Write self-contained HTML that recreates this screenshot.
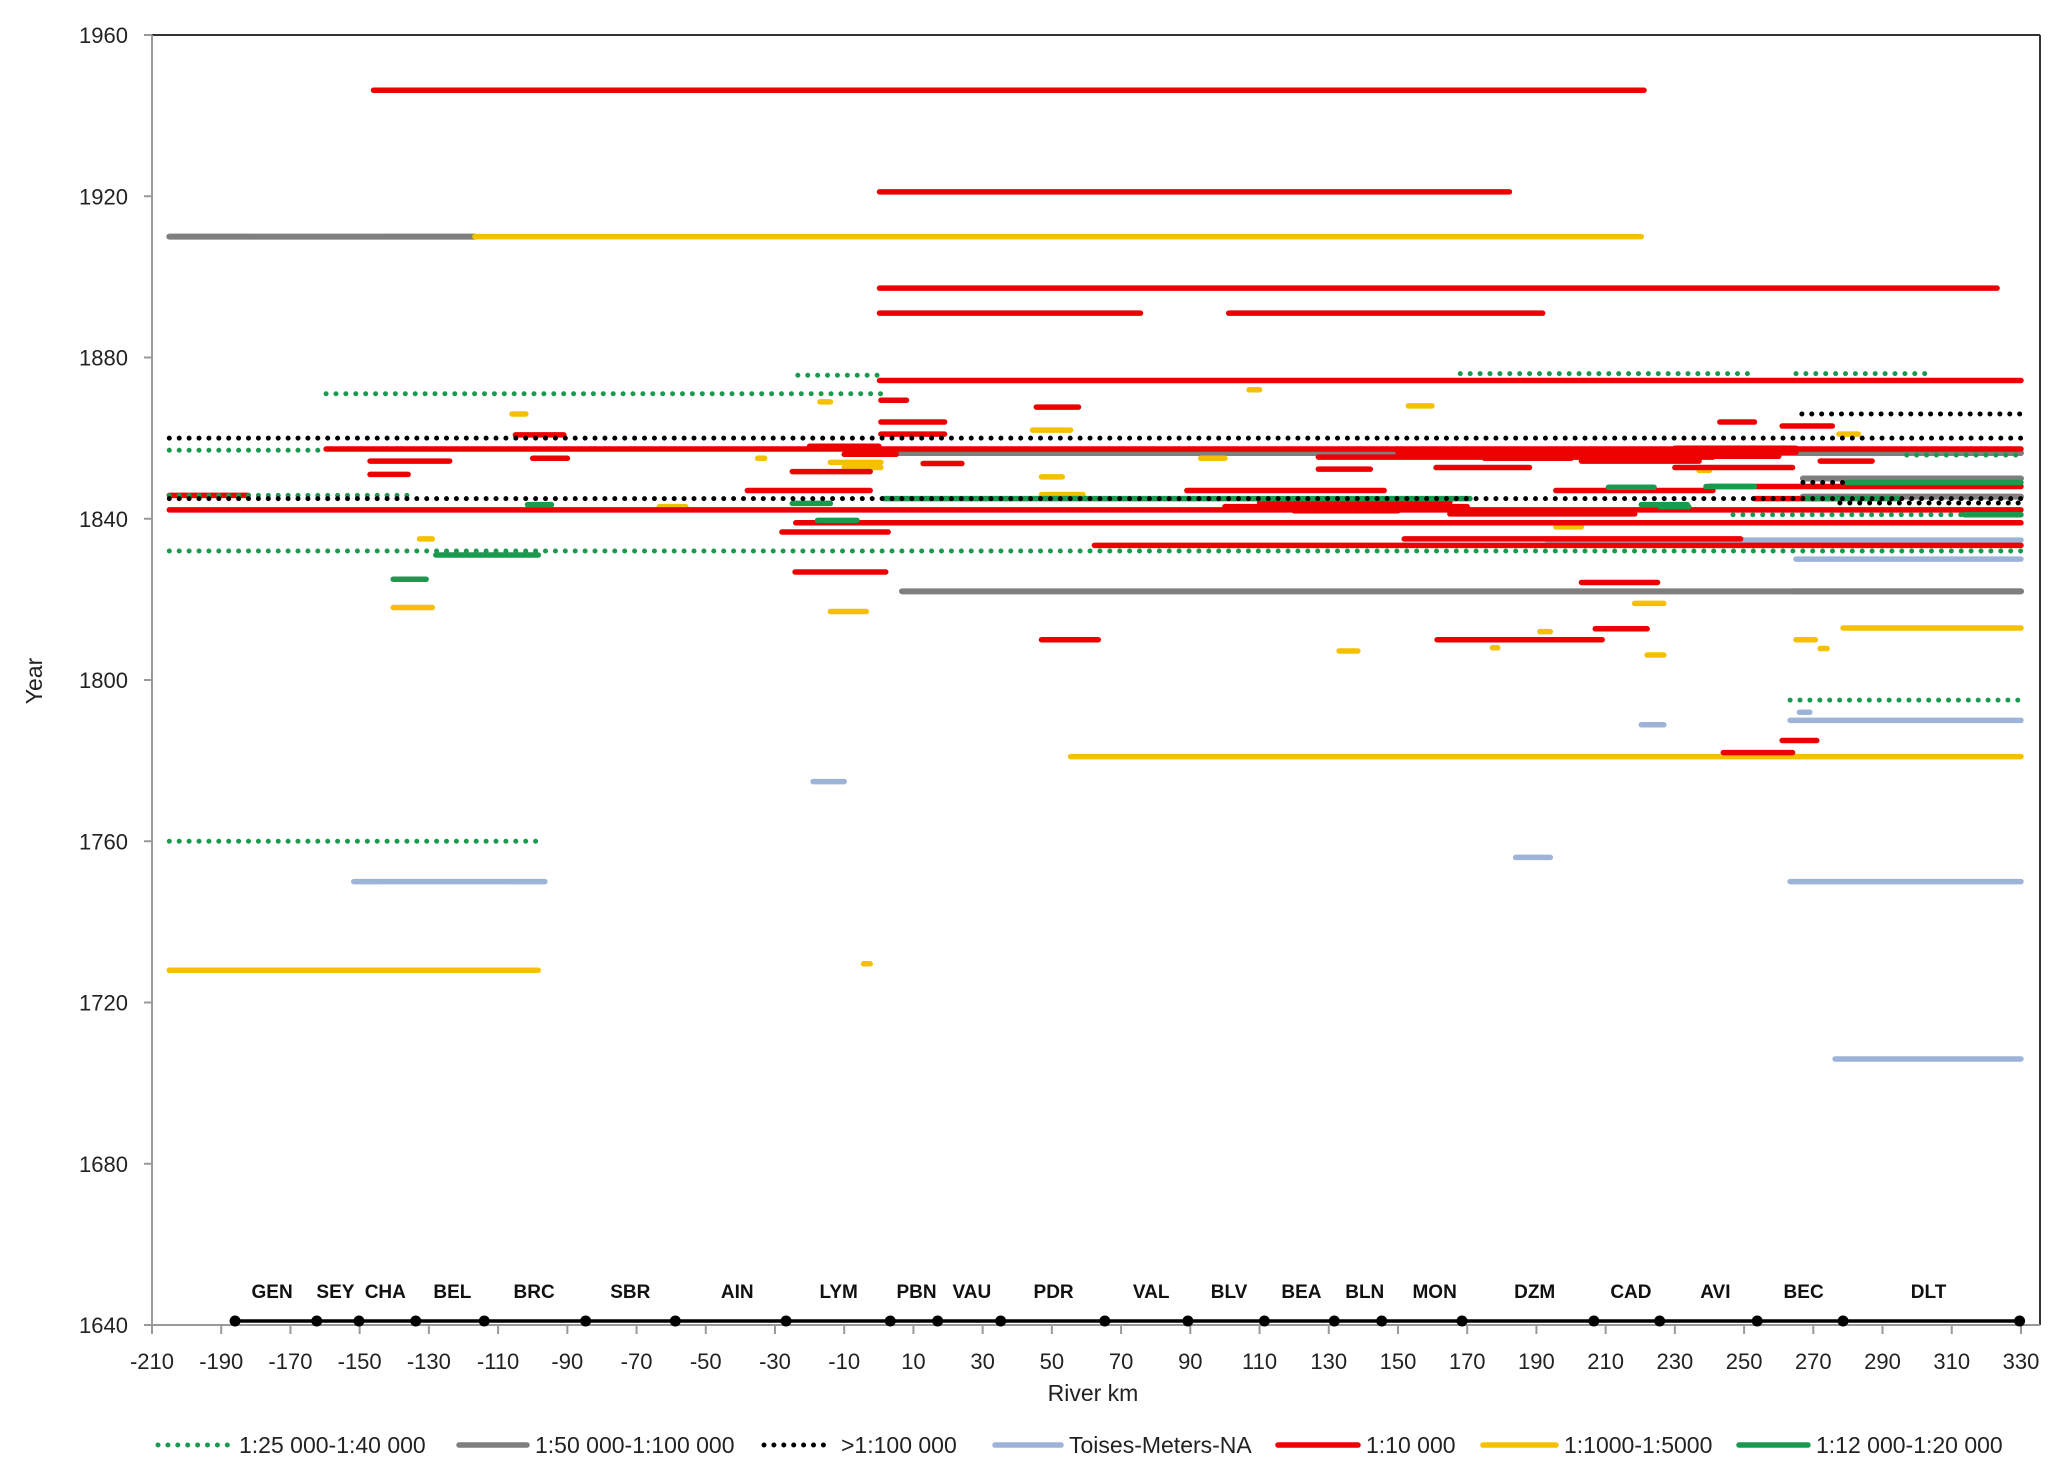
<!DOCTYPE html>
<html><head><meta charset="utf-8">
<style>
html,body{margin:0;padding:0;background:#fff;}
svg{display:block;font-family:"Liberation Sans",sans-serif;}
</style></head>
<body>
<svg id="chart" width="2067" height="1479" viewBox="0 0 2067 1479" xmlns="http://www.w3.org/2000/svg">
<rect x="0" y="0" width="2067" height="1479" fill="#fff"/>
<g id="marks"></g>
<g id="axes"></g>
<g id="legend"></g>
</svg>
<script>
// ---- data (river km start, river km end, year) ----
const xTicks = [-210,-190,-170,-150,-130,-110,-90,-70,-50,-30,-10,10,30,50,70,90,110,130,150,170,190,210,230,250,270,290,310,330];
const yTicks = [1640,1680,1720,1760,1800,1840,1880,1920,1960];

const stationKm = [-186,-162.4,-150.2,-133.8,-114,-84.7,-58.8,-26.8,3.3,17,35.2,65.3,89.3,111.4,131.6,145.3,168.5,206.6,225.6,253.8,278.6,329.6];
const reachNames = ["GEN","SEY","CHA","BEL","BRC","SBR","AIN","LYM","PBN","VAU","PDR","VAL","BLV","BEA","BLN","MON","DZM","CAD","AVI","BEC","DLT"];
const reachKm = [-175.3,-157,-142.6,-123.2,-99.6,-71.8,-40.9,-11.6,10.9,26.9,50.5,78.7,101.2,122.1,140.4,160.6,189.5,217.3,241.7,267.2,303.3];

// 1:25 000-1:40 000 (green dotted)
const s25Start = [-23.4,168,265,-159.7,-205,-205,-205,-205,263.3,246.8,297];
const s25End   = [1.4,251.5,303.3,1.4,-159.7,-133.5,330,-98.8,330,330,330];
const s25Year  = [1875.6,1876,1876,1871,1857,1845.8,1832,1760,1795,1841,1855.8];

// 1:50 000-1:100 000 (gray)
const s50Start = [-205,3.3,6.7,264,267,267];
const s50End   = [-116.7,330,330,330,330,330];
const s50Year  = [1910,1856.3,1822,1822,1850,1845.5];

// >1:100 000 (black dotted)
const s100Start = [-205,-205,266.7,267,277.7];
const s100End   = [330,330,330,280,330];
const s100Year  = [1860,1845,1866,1849,1843.9];

// Toises-Meters-NA (light blue)
const sToiStart = [-19,-151.7,184,220.3,263.3,276.3,263.3,193,265,266];
const sToiEnd   = [-10,-96.5,194,226.8,330,330,330,330,330,269];
const sToiYear  = [1774.8,1750,1756,1788.9,1790,1706,1750,1834.7,1830,1792];

// 1:10 000 (red)
const s10Start = [-146,0.2,0.2,0.2,101.1,0.2,-159.7,-205,-205,-24,-28,62.3,151.8,-24.2,47,161.3,207,203,244,261,-147,-147,-105,-100,0.6,0.6,0.6,45.5,-38,243,261,127,161,203,89,112,195.6,165,230,253,272,12.8,-25,127,150,175,215,230,100,120,240,110,-20,-10];
const s10End   = [221.1,182.2,323.1,75.6,191.8,330,330,-182.2,330,330,2.7,330,249,2,63.4,209,222,225,264,271,-124,-136,-91,-90,8,19,19,57.7,-2.5,253,275.5,241,188,237,146,165,241,218.4,264,279,287,24,-2.5,142,265,200,260,265,170,150,330,145,0,5];
const s10Year  = [1946.3,1921.1,1897.2,1891,1891,1874.3,1857.3,1845.8,1842.2,1839,1836.7,1833.4,1835,1826.8,1810,1810,1812.7,1824.2,1782,1785,1854.3,1851,1860.8,1855,1869.4,1864,1861,1867.7,1847,1864,1863,1855.3,1852.7,1854.3,1847,1844.2,1847,1841.2,1852.7,1845,1854.3,1853.7,1851.7,1852.3,1856.5,1855,1855.5,1857.5,1843,1842,1848,1844,1858,1856];

// 1:1000-1:5000 (yellow)
const s1000Start = [-116.7,-205,55.4,278.6,-140.3,-14,-132.7,-4.4,133,177.3,218.4,222,265,-106,-17,107,153,44.4,47,47,191,-63.4,-14,-10,93,277.4,272,-35,195.6,237];
const s1000End   = [220.3,-98.4,330,330,-129,-3.6,-129,-2.5,138.4,178.8,226.8,226.8,270.6,-102,-14,110,159.8,55.4,53,59,194,-55.8,0.6,0.6,100,283,274,-33,203,240];
const s1000Year  = [1910,1728,1781,1812.9,1818,1817,1835,1729.6,1807.2,1808,1819,1806.2,1810,1866,1869,1872,1868,1862,1850.4,1846,1812,1843,1854,1852.7,1855,1861,1807.8,1855,1838,1852];

// 1:12 000-1:20 000 (green)
const s12Start = [-140.3,-128,-101.5,1.4,-17.7,210.8,220.3,279.7,313.6,-25,239,225.7,268];
const s12End   = [-130.8,-98.4,-94.6,170.8,-6.3,224,233.6,330,330,-14,253,234,295];
const s12Year  = [1825,1831,1843.5,1845,1839.6,1847.8,1843.5,1849,1841,1843.8,1848,1843,1845];

// ---- scales ----
const X0=152, X1=2040, KM0=-210, KM1=335.5;
const Y0=1325, Y1=35, YR0=1640, YR1=1960;
function xs(km){return X0+(km-KM0)*(X1-X0)/(KM1-KM0);}
function ys(yr){return Y0-(yr-YR0)*(Y0-Y1)/(YR1-YR0);}

const NS="http://www.w3.org/2000/svg";
function mk(tag,parent){const e=document.createElementNS(NS,tag);parent.appendChild(e);return e;}
const marks=document.getElementById('marks');
const axes=document.getElementById('axes');
const legend=document.getElementById('legend');

function drawSolid(starts,ends,years,color,w,name){
  for(let i=0;i<starts.length;i++){
    const l=mk('line',marks);
    
    
    l.setAttribute('x1',xs(starts[i]));l.setAttribute('x2',xs(ends[i]));
    l.setAttribute('y1',ys(years[i]));l.setAttribute('y2',ys(years[i]));
    l.setAttribute('stroke',color);l.setAttribute('stroke-width',w);
    l.setAttribute('stroke-linecap','round');
  }
}
function drawDotted(starts,ends,years,color,name){
  for(let i=0;i<starts.length;i++){
    const l=mk('line',marks);
    
    
    l.setAttribute('x1',xs(starts[i]));l.setAttribute('x2',xs(ends[i]));
    l.setAttribute('y1',ys(years[i]));l.setAttribute('y2',ys(years[i]));
    l.setAttribute('stroke',color);l.setAttribute('stroke-width',5);
    l.setAttribute('stroke-linecap','round');
    l.setAttribute('stroke-dasharray','0 9.9');
  }
}
drawSolid(s50Start,s50End,s50Year,'#7f7f7f',6,'series-1-50000');
drawSolid(sToiStart,sToiEnd,sToiYear,'#9db4d8',5.5,'series-toises');
drawSolid(s1000Start,s1000End,s1000Year,'#f5c000',5.5,'series-1-1000');
drawSolid(s10Start,s10End,s10Year,'#ee0000',5.5,'series-1-10000');
drawSolid(s12Start,s12End,s12Year,'#1a9a4e',5.5,'series-1-12000');
drawDotted(s25Start,s25End,s25Year,'#1a9a4e','series-1-25000');
drawDotted(s100Start,s100End,s100Year,'#000','series-gt-100000');

// ---- axes ----
function line(p,x1,y1,x2,y2,c,w,name){const l=mk('line',p);
  
  
  l.setAttribute('x1',x1);l.setAttribute('y1',y1);l.setAttribute('x2',x2);l.setAttribute('y2',y2);
  l.setAttribute('stroke',c);l.setAttribute('stroke-width',w);return l;}
line(axes,X0,Y1,X1,Y1,'#333',2,'plot-border-top');
line(axes,X1,Y1,X1,Y0,'#333',2,'plot-border-right');
line(axes,X0,Y1,X0,Y0+2,'#999',2,'y-axis-line');
line(axes,X0-2,Y0,X1,Y0,'#999',2,'x-axis-line');

yTicks.forEach(v=>{
  line(axes,X0-8,ys(v),X0,ys(v),'#999',2,'y-tick');
  const t=mk('text',axes);
  
  
  t.setAttribute('x',X0-24);t.setAttribute('y',ys(v)+8);t.setAttribute('text-anchor','end');
  t.setAttribute('font-size','22');t.setAttribute('fill','#222');t.textContent=v;
});
xTicks.forEach(v=>{
  line(axes,xs(v),Y0,xs(v),Y0+9,'#999',2,'x-tick');
  const t=mk('text',axes);
  
  
  t.setAttribute('x',xs(v));t.setAttribute('y',Y0+44);t.setAttribute('text-anchor','middle');
  t.setAttribute('font-size','22');t.setAttribute('fill','#222');t.textContent=v;
});
line(axes,xs(stationKm[0]),Y0-4,xs(stationKm[stationKm.length-1]),Y0-4,'#000',3.5,'station-line');
stationKm.forEach(k=>{
  const c=mk('circle',axes);
  
  
  c.setAttribute('cx',xs(k));c.setAttribute('cy',Y0-4);c.setAttribute('r',5.5);c.setAttribute('fill','#000');
});
reachNames.forEach((n,i)=>{
  const t=mk('text',axes);
  
  
  t.setAttribute('x',xs(reachKm[i]));t.setAttribute('y',1298);t.setAttribute('text-anchor','middle');
  t.setAttribute('font-size','19');t.setAttribute('font-weight','bold');t.setAttribute('fill','#111');t.textContent=n;
});
{
  const t=mk('text',axes);
  
  
  t.setAttribute('x',1093);t.setAttribute('y',1401);t.setAttribute('text-anchor','middle');
  t.setAttribute('font-size','23');t.setAttribute('fill','#222');t.textContent='River km';
  const u=mk('text',axes);
  
  
  u.setAttribute('transform','translate(42,681) rotate(-90)');u.setAttribute('text-anchor','middle');
  u.setAttribute('font-size','23');u.setAttribute('fill','#222');u.textContent='Year';
}

// ---- legend ----
const legLabels=["1:25 000-1:40 000","1:50 000-1:100 000",">1:100 000","Toises-Meters-NA","1:10 000","1:1000-1:5000","1:12 000-1:20 000"];
const legColors=["#1a9a4e","#7f7f7f","#000","#9db4d8","#ee0000","#f5c000","#1a9a4e"];
const legDotted=[true,false,true,false,false,false,false];
const legX=[158,459,764,995,1278,1483,1739];
const legW=[73,68,69,66,80,73,69];
legLabels.forEach((lab,i)=>{
  const l=line(legend,legX[i],1445,legX[i]+legW[i],1445,legColors[i],legDotted[i]?5:5.5,'legend-swatch');
  l.setAttribute('stroke-linecap','round');
  if(legDotted[i]) l.setAttribute('stroke-dasharray','0 9.9');
  const t=mk('text',legend);
  
  
  t.setAttribute('x',legX[i]+legW[i]+8);t.setAttribute('y',1453);
  t.setAttribute('font-size','23');t.setAttribute('fill','#222');t.textContent=lab;
});
</script>
</body></html>
